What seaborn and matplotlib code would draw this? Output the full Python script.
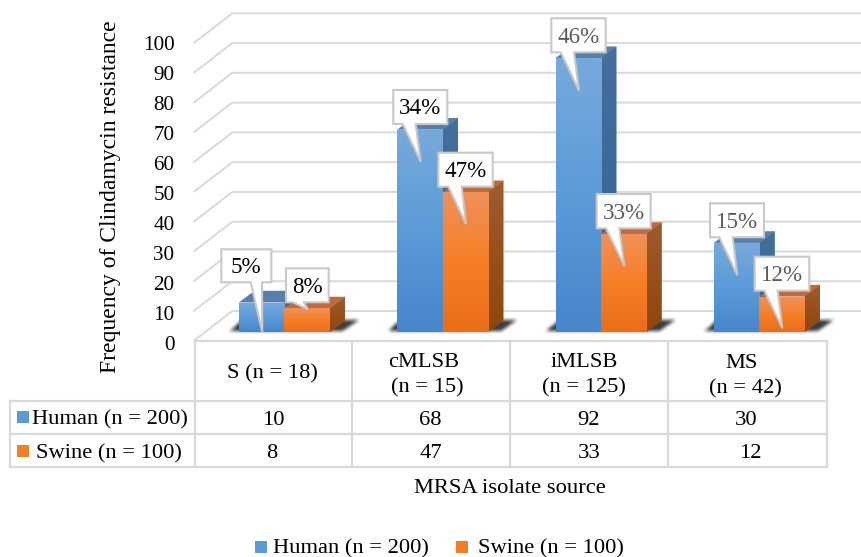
import numpy as np
import pandas as pd
import matplotlib
matplotlib.use('Agg')
import matplotlib.pyplot as plt
import seaborn as sns
from matplotlib.patches import Polygon, Rectangle
from matplotlib.transforms import Affine2D

# values
categories = ['S', 'cMLSB', 'iMLSB', 'MS']
human_values = [10, 68, 92, 30]
swine_values = [8, 47, 33, 12]
human_pct = ['5%', '34%', '46%', '15%']
swine_pct = ['8%', '47%', '33%', '12%']
y_ticks = [0, 10, 20, 30, 40, 50, 60, 70, 80, 90, 100]
human_label = 'Human (n = 200)'
swine_label = 'Swine (n = 100)'

W, H = 861, 557
BASE_Y = 332.3   # pixel row of value 0 at the bar front
PX_PER_UNIT = 2.98
CAT_STEP = 158.3
FIRST_X = 284.2  # pixel column of the first category centre
DEPTH_X = 15.5
DEPTH_Y = 11.7

sns.set_theme(style='white')
plt.rcParams['font.family'] = ['Liberation Serif', 'DejaVu Serif']

df = pd.DataFrame({
    'category': categories * 2,
    'count': human_values + swine_values,
    'source': [human_label] * 4 + [swine_label] * 4,
})

fig = plt.figure(figsize=(W / 100, H / 100), dpi=100)
ax = fig.add_axes([0, 0, 1, 1])

sns.barplot(data=df, x='category', y='count', hue='source', ax=ax, legend=False,
            palette=['#5B9BD5', '#F57E24'], saturation=1, width=2 * 45.3 / CAT_STEP, gap=0)

xlim = (-FIRST_X / CAT_STEP, (W - FIRST_X) / CAT_STEP)
ylim = ((BASE_Y - H) / PX_PER_UNIT, BASE_Y / PX_PER_UNIT)
ax.set_xlim(xlim)
ax.set_ylim(ylim)
ax.axis('off')

# everything outside the bars is placed in image pixels, y going down
pix = Affine2D().scale(1, -1).translate(0, H)
ddx = DEPTH_X / CAT_STEP
ddy = DEPTH_Y / PX_PER_UNIT


def hex_rgb(c):
    return np.array(matplotlib.colors.to_rgb(c))


def grad_fill(patch, colors, z):
    # vertical gradient clipped to a patch, first colour at the top
    ext = patch.get_extents().transformed(ax.transData.inverted())
    stops = np.array([hex_rgb(c) for c in colors])
    t = np.linspace(0, 1, 64)
    pos = np.linspace(0, 1, len(colors))
    img = np.stack([np.interp(t, pos, stops[:, i]) for i in range(3)], axis=1)[:, None, :]
    im = ax.imshow(img, extent=[ext.x0, ext.x1, ext.y0, ext.y1], origin='upper',
                   aspect='auto', zorder=z, interpolation='bilinear')
    im.set_clip_path(patch)


def draw_bar_3d(bar, face, side, top, z):
    x0, w, h = bar.get_x(), bar.get_width(), bar.get_height()
    side_p = Polygon([(x0 + w, 0), (x0 + w + ddx, ddy), (x0 + w + ddx, h + ddy), (x0 + w, h)],
                     closed=True, fc=side[0], ec='none', zorder=z)
    top_p = Polygon([(x0, h), (x0 + w, h), (x0 + w + ddx, h + ddy), (x0 + ddx, h + ddy)],
                    closed=True, fc=top, ec='none', zorder=z)
    ax.add_patch(side_p)
    ax.add_patch(top_p)
    grad_fill(side_p, side, z + 0.1)
    bar.set_zorder(z + 0.2)
    bar.set_edgecolor('none')
    grad_fill(bar, face, z + 0.3)


def blur(a, n):
    k = np.ones(n) / n
    a = np.apply_along_axis(lambda r: np.convolve(r, k, mode='same'), 1, a)
    return np.apply_along_axis(lambda r: np.convolve(r, k, mode='same'), 0, a)


def px_text(x, y, s, size=16.2, color='black', ha='center', z=9):
    # y is the text baseline in image pixels
    ax.text(x, y, s, fontsize=size, ha=ha, va='baseline', color=color, transform=pix, zorder=z)


# back wall gridlines with the short slanted part
for t in y_ticks:
    yb = 311 - 2.977 * t
    ax.plot([193.5, 232.3, W], [yb + 30, yb, yb], color='#D9D9D9', lw=1.4,
            transform=pix, zorder=1, solid_capstyle='butt')

# soft floor shadows, a blurred mask under each bar pair
mask = np.zeros((H, W))
for i in range(len(categories)):
    cx = FIRST_X + i * CAT_STEP
    left, right = cx - 45.3, cx + 45.3
    for row in range(320, 331):
        f = (331 - row) / 11
        a = int(left - 9 + f * 12)
        b = int(right + 13 + f * 16)
        mask[row, a:b] = 1
mask = blur(blur(mask, 5), 3)
shadow = np.zeros((H, W, 4))
shadow[..., :3] = 0.25
shadow[..., 3] = np.clip(mask * 1.05, 0, 1)
ax.imshow(shadow, extent=[xlim[0], xlim[1], ylim[0], ylim[1]], aspect='auto', zorder=2,
          origin='upper', interpolation='nearest')

# seaborn draws the front faces, the rest of the box is built on them
blue_face = ['#78A9DC', '#5B9BD8', '#4787CA']
blue_side = ['#456F9C', '#3A6A98', '#2F5F8E']
orange_face = ['#F0915A', '#F67F26', '#EB6E18']
orange_side = ['#9E5C30', '#98501C', '#8F470C']

for bar in ax.containers[0]:
    draw_bar_3d(bar, blue_face, blue_side, '#5580AC', 3)
for bar in ax.containers[1]:
    draw_bar_3d(bar, orange_face, orange_side, '#BE6A3A', 5)

# callouts: box left, right, top, bottom, pointer base left, right, tip x, tip y
callout_boxes = [
    (221.3, 271.3, 249.3, 282.3, 250.7, 262.0, 262.3, 332.3),
    (393.3, 447.3, 90.0, 124.0, 402.7, 415.7, 420.7, 161.7),
    (551.3, 605.7, 18.3, 52.3, 560.7, 574.0, 579.0, 90.7),
    (710.0, 764.0, 203.3, 237.3, 719.3, 732.7, 737.3, 275.3),
    (286.0, 328.7, 268.3, 302.3, 293.0, 304.0, 307.7, 309.3),
    (438.3, 492.7, 152.7, 186.7, 448.3, 461.7, 466.0, 224.0),
    (596.7, 650.7, 194.0, 228.3, 606.0, 619.3, 624.3, 266.0),
    (754.7, 809.3, 256.7, 290.7, 764.3, 777.7, 782.3, 328.3),
]
callout_colors = ['black', 'black', '#595959', '#595959', 'black', 'black', '#595959', '#595959']
for box, label, col in zip(callout_boxes, human_pct + swine_pct, callout_colors):
    l, r, t, b, p0, p1, tx, ty = box
    ax.add_patch(Polygon([(l, t), (r, t), (r, b), (p1, b), (tx, ty), (p0, b), (l, b)], closed=True,
                         fc='white', ec='#C9C9C9', lw=1.5, transform=pix, zorder=8))
    px_text((l + r) / 2, (t + b) / 2 + 7.5, label, size=16.6, color=col)

# y axis labels
for t in y_ticks:
    px_text(174.5, 343 - 3.0 * t + 7, str(t), size=15.2, ha='right')
ax.text(116, 197, 'Frequency of Clindamycin resistance', fontsize=17, rotation=90,
        ha='center', va='baseline', rotation_mode='anchor', color='black', transform=pix)

# data table under the plot
grid_kw = dict(color='#D9D9D9', lw=1.6, transform=pix, zorder=1, solid_capstyle='projecting')
ax.plot([195, 827], [341, 341], **grid_kw)
for yy in [401.3, 434, 467.3]:
    ax.plot([10, 827], [yy, yy], **grid_kw)
ax.plot([10, 10], [401.3, 467.3], **grid_kw)
for xx in [195, 352, 510, 668, 827]:
    ax.plot([xx, xx], [341, 467.3], **grid_kw)

px_text(272, 378, 'S (n = 18)')
px_text(423.5, 367.3, 'cMLSB')
px_text(427, 392.7, '(n = 15)')
px_text(584, 367.3, 'iMLSB')
px_text(584, 392.7, '(n = 125)')
px_text(742, 368, 'MS')
px_text(745.7, 393, '(n = 42)')

human_x = [273, 430, 588, 746]
swine_x = [272, 431, 589, 750]
for xx, val in zip(human_x, human_values):
    px_text(xx, 425, str(val))
for xx, val in zip(swine_x, swine_values):
    px_text(xx, 458, str(val))

ax.add_patch(Rectangle((17, 411), 12, 12, fc='#5B9BD5', ec='none', transform=pix, zorder=4))
ax.add_patch(Rectangle((17, 445), 12, 12, fc='#F57E24', ec='none', transform=pix, zorder=4))
px_text(32, 424, human_label, ha='left')
px_text(36, 458.3, swine_label, ha='left')

px_text(510, 493, 'MRSA isolate source')

# legend at the bottom
ax.add_patch(Rectangle((255, 541), 12, 12, fc='#5B9BD5', ec='none', transform=pix, zorder=4))
ax.add_patch(Rectangle((456, 541), 12, 12, fc='#F57E24', ec='none', transform=pix, zorder=4))
px_text(273, 553, human_label, ha='left')
px_text(478, 553, swine_label, ha='left')

ax.set_xlim(xlim)
ax.set_ylim(ylim)

fig.savefig('out.png', dpi=100)
